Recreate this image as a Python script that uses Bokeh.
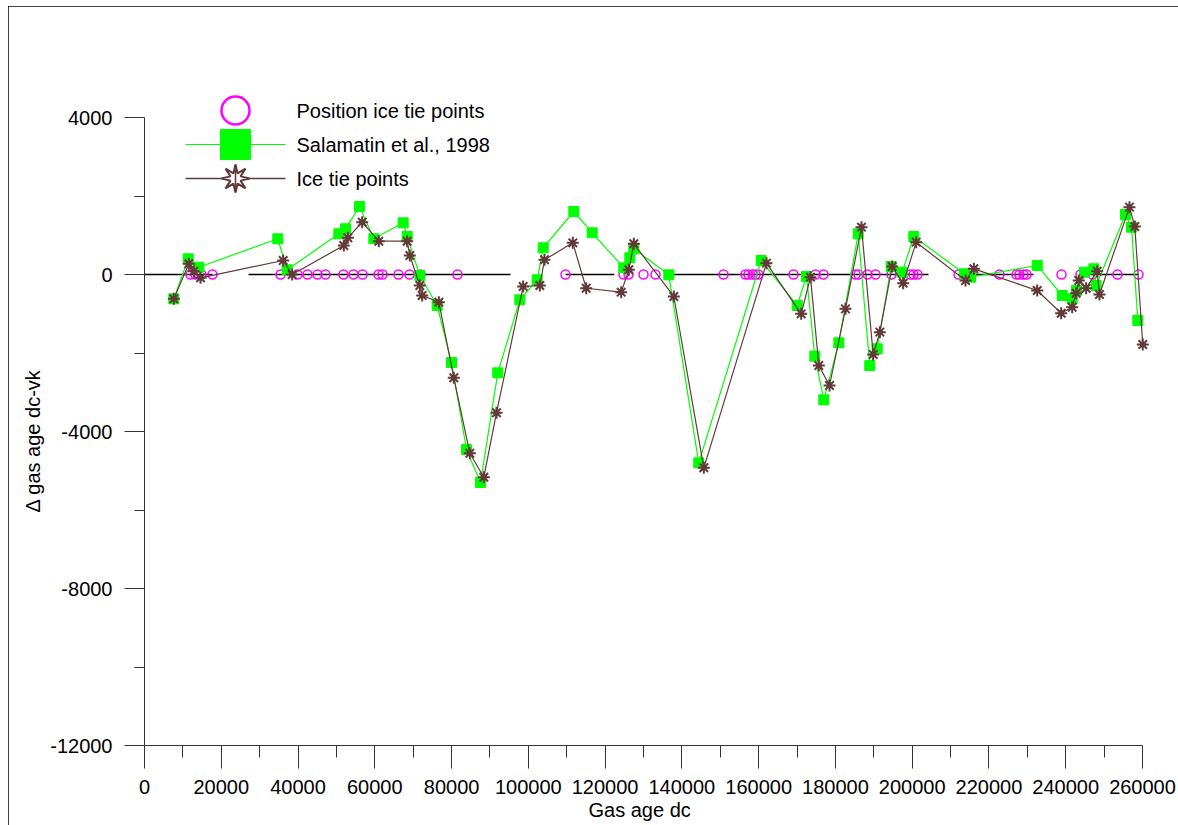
import math
from bokeh.plotting import figure
from bokeh.models import FixedTicker, NumeralTickFormatter, Label, Range1d, Title
from bokeh.embed import file_html
from bokeh.resources import INLINE

# ---------------- data ----------------
tie_x = [11984, 13287, 14850, 17715, 35430, 39860, 42465, 45070, 47155, 51845,
         54450, 56795, 60960, 62005, 66170, 69040, 71905, 81545, 109680, 124790,
         126095, 130000, 133130, 150845, 156575, 157360, 158400, 159180, 159965,
         169085, 174815, 176900, 185235, 186020, 188365, 190450, 194615, 199565,
         200350, 201390, 212070, 222745, 227175, 227955, 229000, 229780, 238900,
         243850, 246975, 253490, 258960]

sal_x = [7640, 11380, 14150, 34730, 37170, 50620, 52370, 56010, 59750, 67390,
         68430, 71730, 76250, 79980, 83890, 87530, 92040, 97780, 102300, 103870,
         111850, 116630, 124870, 126440, 127480, 136590, 144400, 160660, 170050,
         172470, 174630, 176970, 180880, 185930, 188950, 190880, 194530, 197390,
         200420, 213600, 215190, 232570, 239080, 241680, 242800, 244890, 247320,
         247930, 255570, 257140, 258780]
sal_y = [-620, 400, 186, 910, 120, 1037, 1164, 1733, 910, 1317,
         968, -25, -790, -2242, -4459, -5300, -2505, -645, -135, 680,
         1605, 1062, 170, 425, 655, -8, -4800, 357, -790,
         -50, -2080, -3193, -1740, 1037, -2320, -1893, 204, 59,
         968, 18, -68, 230, -535, -620, -408, 59, 145,
         -280, 1529, 1206, -1172]

ice_x = [7640, 11550, 12850, 14590, 36130, 38470, 51920, 52970, 56710, 61040,
         68430, 69120, 71730, 72340, 76680, 80580, 84750, 88400, 91700, 98650,
         102990, 104210, 111580, 115070, 124190, 126180, 127480, 137900, 145720,
         162040, 171080, 173500, 175670, 178460, 182620, 186790, 189840, 191570,
         194780, 197650, 201040, 213890, 216060, 232570, 238820, 241680, 242720,
         243400, 245320, 248190, 248790, 256610, 258000, 260070]
ice_y = [-620, 272, 85, -85, 357, 0, 739, 935, 1333, 849,
         849, 484, -280, -535, -705, -2632, -4553, -5165, -3524, -306,
         -280, 374, 807, -350, -450, 120, 782, -560, -4925,
         289, -1002, -68, -2319, -2828, -875, 1206, -2038, -1469,
         204, -221, 824, -153, 145, -408, -986, -833, -476,
         -153, -349, 85, -510, 1716, 1223, -1784]

zero_start = [0, 27100, 109700, 137800, 212000, 246400]
zero_end = [17700, 95350, 122400, 204250, 231600, 259000]

x_ticks = list(range(0, 260001, 20000))
x_minor = list(range(10000, 250001, 20000))
y_ticks = [-12000, -8000, -4000, 0, 4000]
y_minor = [-10000, -6000, -2000, 2000]

labels = ["Position ice tie points", "Salamatin et al., 1998", "Ice tie points"]
x_title = "Gas age dc"
y_title = "\u0394 gas age dc-vk"

# ---------------- layout (page px; figure placed at page (8, 6)) ----------------
OX, OY = 8, 6
W, H = 1170, 819
FL, FR, FT, FB = 136, 26, 10, 80
frame_w = W - FL - FR
frame_h = H - FT - FB
PX_X = 998 / 260000.0
PX_Y = 157 / 4000.0
x_end = frame_w / PX_X
y_start = -12000
y_end = y_start + frame_h / PX_Y


def X(px):
    return (px - 144) / PX_X


def Y(py):
    return (274 - py) / PX_Y


BROWN = "#633a3a"
GREEN = "#00ff00"
MAG = "#ff00ff"
FONT = "Liberation Sans"

p = figure(width=W, height=H, x_range=Range1d(0, x_end), y_range=Range1d(y_start, y_end),
           output_backend="svg", toolbar_location=None,
           min_border_left=FL, min_border_right=FR, min_border_top=FT, min_border_bottom=FB)
p.styles = {"margin-left": f"{OX}px", "margin-top": f"{OY}px",
            "outline": "2px solid black", "outline-offset": "-2px"}
p.xgrid.visible = False
p.ygrid.visible = False
p.outline_line_color = None
p.background_fill_color = "white"
p.border_fill_color = "white"

# axes
xa = p.xaxis[0]
xa.ticker = FixedTicker(ticks=x_ticks, minor_ticks=x_minor)
xa.formatter = NumeralTickFormatter(format="0")
xa.bounds = (0, 260000)
xa.major_tick_out = 23
xa.major_tick_in = 0
xa.minor_tick_out = 12
xa.minor_tick_in = 0
xa.major_label_standoff = 11
xa.major_label_text_font = FONT
xa.major_label_text_font_size = "20px"
xa.major_label_text_color = "black"
xa.axis_line_color = "#333333"
xa.major_tick_line_color = "#333333"
xa.minor_tick_line_color = "#333333"

ya = p.yaxis[0]
ya.ticker = FixedTicker(ticks=y_ticks, minor_ticks=y_minor)
ya.formatter = NumeralTickFormatter(format="0")
ya.bounds = (-12000, 4000)
ya.major_tick_out = 20
ya.major_tick_in = 0
ya.minor_tick_out = 10
ya.minor_tick_in = 0
ya.major_label_standoff = 12
ya.major_label_text_font = FONT
ya.major_label_text_font_size = "20px"
ya.major_label_text_color = "black"
ya.axis_line_color = "#333333"
ya.major_tick_line_color = "#333333"
ya.minor_tick_line_color = "#333333"

# axis titles as side-panel titles
p.add_layout(Title(text=x_title, align="left", offset=444, standoff=0,
                   text_font=FONT, text_font_size="20px", text_font_style="normal",
                   text_color="black"), "below")
p.add_layout(Title(text=y_title, align="left", offset=233, standoff=8,
                   text_font=FONT, text_font_size="20px", text_font_style="normal",
                   text_color="black"), "left")

# zero line
p.segment(x0=zero_start, y0=[0] * len(zero_start), x1=zero_end, y1=[0] * len(zero_end),
          line_color="black", line_width=1.5)

# series
p.scatter(tie_x, [0] * len(tie_x), marker="circle", size=9, fill_color=None,
          line_color=MAG, line_width=1.5)
p.line(sal_x, sal_y, line_color=GREEN, line_width=1.2)
p.scatter(sal_x, sal_y, marker="square", size=10, fill_color=GREEN, line_color=GREEN)
p.line(ice_x, ice_y, line_color=BROWN, line_width=1.2)
p.scatter(ice_x, ice_y, marker="asterisk", size=12, line_color=BROWN, line_width=2)
p.scatter(ice_x, ice_y, marker="circle", size=5, fill_color=BROWN, line_color=BROWN)

# legend (hand-built)
lx0, lx1, lxc, ltx = 185, 285, 235, 296
rows = [110, 144, 178]
p.scatter([X(lxc)], [Y(rows[0])], marker="circle", size=28, fill_color=None,
          line_color=MAG, line_width=2.5)
p.line([X(lx0), X(lx1)], [Y(rows[1])] * 2, line_color=GREEN, line_width=1.2)
p.scatter([X(lxc)], [Y(rows[1])], marker="square", size=30, fill_color=GREEN, line_color=GREEN)
p.line([X(lx0), X(lx1)], [Y(rows[2])] * 2, line_color=BROWN, line_width=1.5)
sx, sy = [], []
for k in range(16):
    ang = math.pi / 2 + k * math.pi / 8
    r = 14 if k % 2 == 0 else 5.5
    sx.append(X(lxc + r * math.cos(ang)))
    sy.append(Y(rows[2] - r * math.sin(ang)))
p.patch(sx, sy, fill_color="white", line_color=BROWN, line_width=2)
p.line([X(lxc), X(lxc)], [Y(rows[2] - 14), Y(rows[2] + 14)], line_color=BROWN, line_width=1.5)
for t, ry in zip(labels, rows):
    p.add_layout(Label(x=X(ltx), y=Y(ry), text=t, text_align="left", text_baseline="middle",
                       text_font=FONT, text_font_size="20px", text_color="black"))

open("out.html", "w").write(file_html(p, INLINE))
